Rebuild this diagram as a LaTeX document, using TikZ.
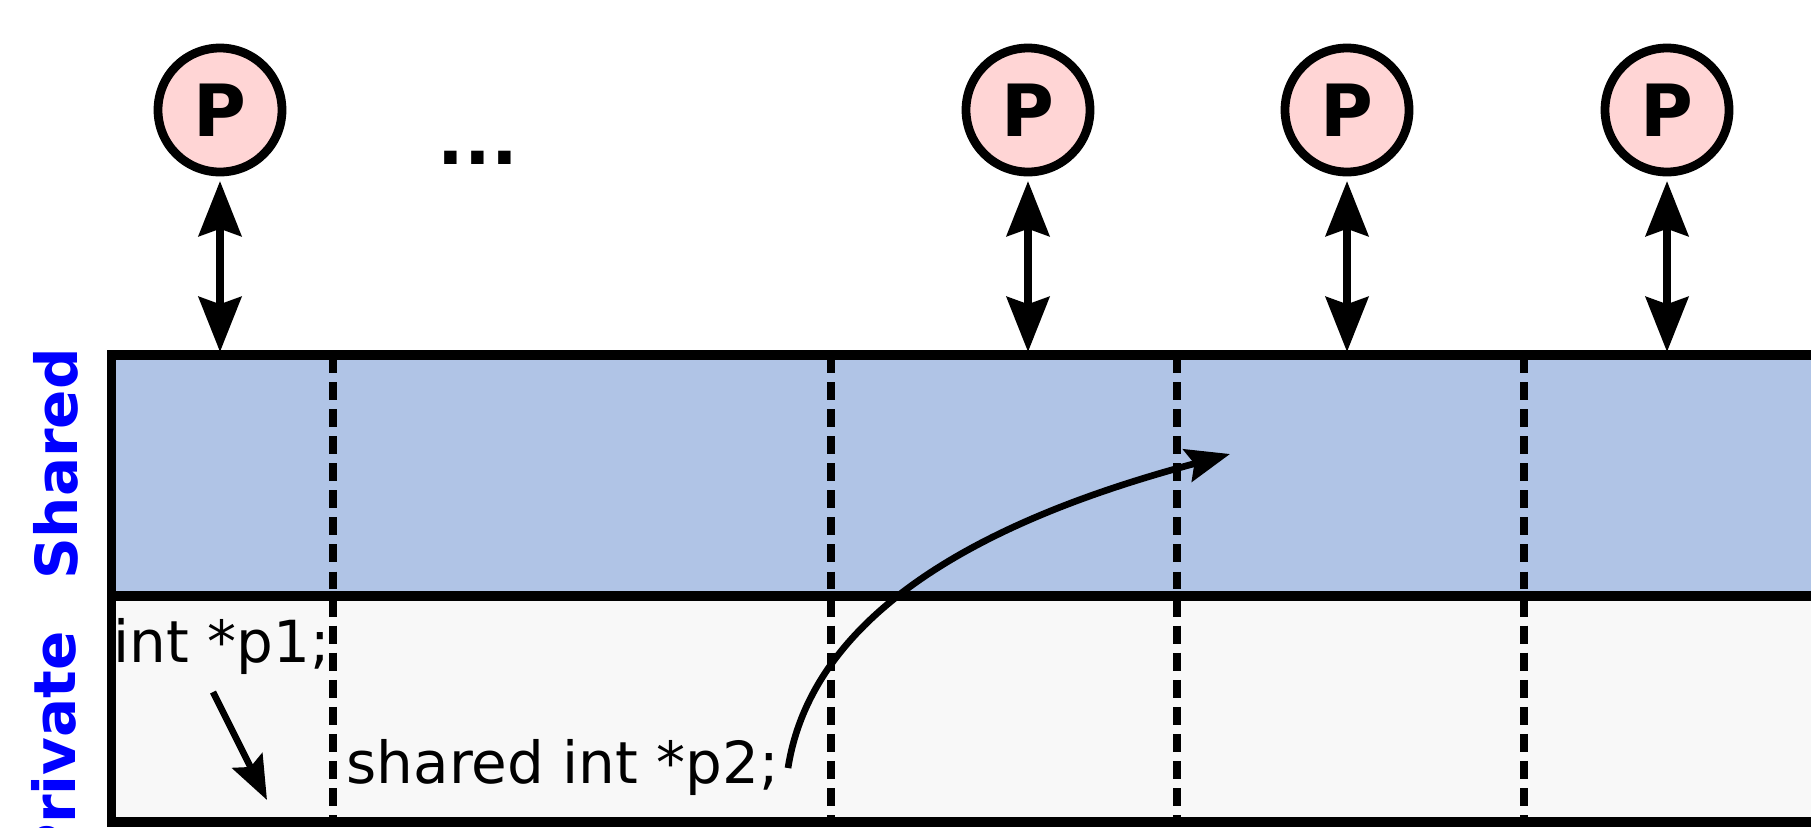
\documentclass[tikz,border=0pt]{standalone}
\usepackage{fontspec}
\setmainfont{DejaVu Sans}
\usetikzlibrary{arrows.meta}
\definecolor{sharedfill}{HTML}{B0C4E6}
\definecolor{privatefill}{HTML}{F8F8F8}
\definecolor{procfill}{HTML}{FFD5D5}
\definecolor{labelblue}{HTML}{0000FF}
\begin{document}
\begin{tikzpicture}[
    proc/.style={circle,draw,line width=2.5pt,fill=procfill,minimum size=1.24cm,inner sep=0pt,font=\fontsize{20.5}{24}\selectfont\bfseries},
    bus/.style={line width=2.5pt,{Stealth[length=15.6pt,width=12pt,inset=2pt]}-{Stealth[length=15.6pt,width=12pt,inset=2pt]},shorten <=1.3pt},
    wall/.style={line width=2.6pt},
    split/.style={line width=2.5pt,dash pattern=on 5.1pt off 2.6pt},
    ptr/.style={line width=1.9pt,-{Stealth[length=12.5pt,width=9.5pt,inset=2pt]}},
    code/.style={inner sep=0pt,anchor=base west,font=\fontsize{16.5}{20}\selectfont},
    side/.style={rotate=90,anchor=base,inner sep=0pt,text=labelblue,font=\fontsize{16.5}{20}\selectfont\bfseries}
]
    \useasboundingbox (0,0) rectangle (18.11,8.27);
    % memory: shared part on top, private part below
    \fill[sharedfill] (1.115,2.31) rectangle (19,4.72);
    \fill[privatefill] (1.115,0.05) rectangle (19,2.31);
    \foreach \x in {3.33,8.31,11.77,15.24}
        \draw[split] (\x,4.72) -- (\x,0.05);
    \draw[wall] (19,4.72) -| (1.115,0.05) -- (19,0.05);
    \draw[wall] (1.115,2.31) -- (19,2.31);
    \coordinate (memtop) at (0,4.75);
    % processes
    \node[proc] (p1) at (2.20,7.17) {P};
    \node[proc] (p2) at (10.28,7.17) {P};
    \node[proc] (p3) at (13.47,7.17) {P};
    \node[proc] (p4) at (16.67,7.17) {P};
    \node[anchor=base,inner sep=0pt,font=\fontsize{20}{24}\selectfont\bfseries] (dots) at (4.78,6.63) {...};
    \foreach \p in {p1,p2,p3,p4}
        \draw[bus] (\p) -- (\p |- memtop);
    % labels
    \node[side] (sharedlbl) at (0.77,3.63) {Shared};
    \node[side] (privatelbl) at (0.75,0.78) {Private};
    \node[code] (p1txt) at (1.13,1.65) {int *p1;};
    \node[code] (p2txt) at (3.46,0.44) {shared int *p2;};
    % pointers
    \coordinate (p1from) at (2.13,1.35);
    \coordinate (p1to) at (2.67,0.27);
    \draw[ptr] (p1from) -- (p1to);
    \coordinate (p2from) at (7.88,0.59);
    \coordinate (p2to) at (12.30,3.73);
    \draw[ptr] (p2from) .. controls (8.17,2.45) and (10.56,3.26) .. (p2to);
\end{tikzpicture}
\end{document}
